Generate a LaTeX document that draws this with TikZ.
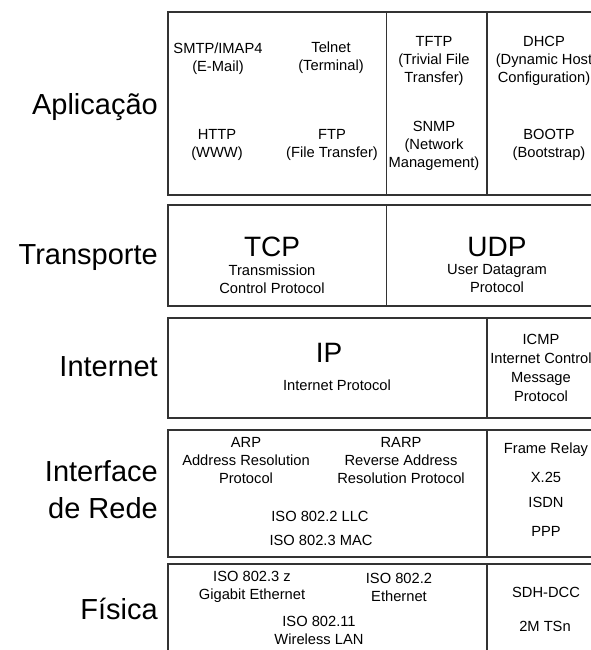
\documentclass[tikz,border=0pt]{standalone}
\usepackage{fontspec}
\setmainfont{Liberation Sans}
\begin{document}
\begin{tikzpicture}[x=1pt,y=-1pt,
  frame/.style={draw=black!80, line width=1.7pt},
  layer/.style={anchor=east, align=right, inner sep=0pt,
    font=\fontsize{29}{37}\selectfont},
  cell/.style={align=center, inner sep=0pt,
    font=\fontsize{14.7}{18}\selectfont},
  proto/.style={inner sep=0pt, font=\fontsize{28}{32}\selectfont}]
\useasboundingbox (0,0) rectangle (591,650);
\clip (0,0) rectangle (591,650);
\fill[white] (0,0) rectangle (591,650);

% layer frames and their column dividers
\draw[frame] (168,12) rectangle (606,195);
\draw[frame] (386.5,12) -- (386.5,195);
\draw[frame] (487,12) -- (487,195);

\draw[frame] (168,205) rectangle (606,306);
\draw[frame] (386.5,205) -- (386.5,306);

\draw[frame] (168,318) rectangle (606,418);
\draw[frame] (487,318) -- (487,418);

\draw[frame] (168,430) rectangle (606,557);
\draw[frame] (487,430) -- (487,557);

\draw[frame] (168,564) rectangle (606,670);
\draw[frame] (487,564) -- (487,670);

% layer names
\node[layer] (aplic) at (158,107) {Aplicação};
\node[layer] (transp) at (158,257.5) {Transporte};
\node[layer] (inet) at (158,367) {Internet};
\node[layer] (iface) at (158,490) {Interface\\de Rede};
\node[layer] (fis) at (158,609) {Física};

% application layer
\node[cell] (smtp) at (218,58.5) {SMTP/IMAP4\\(E-Mail)};
\node[cell] (telnet) at (331,58) {Telnet\\(Terminal)};
\node[cell] (tftp) at (434,61) {TFTP\\(Trivial File\\Transfer)};
\node[cell] (dhcp) at (544,61) {DHCP\\(Dynamic Host\\Configuration)};
\node[cell] (http) at (217,145) {HTTP\\(WWW)};
\node[cell] (ftp) at (332,145) {FTP\\(File Transfer)};
\node[cell] (snmp) at (434,146) {SNMP\\(Network\\Management)};
\node[cell] (bootp) at (549,145) {BOOTP\\(Bootstrap)};

% transport layer
\node[proto] (tcp) at (272,247) {TCP};
\node[cell] (tcpsub) at (272,279) {Transmission\\Control Protocol};
\node[proto] (udp) at (497,247) {UDP};
\node[cell] (udpsub) at (497,279) {User Datagram\\Protocol};

% internet layer
\node[proto] (ip) at (329,353) {IP};
\node[cell] (ipsub) at (337,385) {Internet Protocol};
\node[cell, font=\fontsize{14.7}{19}\selectfont] (icmp) at (541,368)
  {ICMP\\Internet Control\\Message\\Protocol};

% network interface layer
\node[cell] (arp) at (246,461) {ARP\\Address Resolution\\Protocol};
\node[cell] (rarp) at (401,461) {RARP\\Reverse Address\\Resolution Protocol};
\node[cell] (llc) at (320,516) {ISO 802.2 LLC};
\node[cell] (mac) at (321,540) {ISO 802.3 MAC};
\node[cell] (frelay) at (546,450) {Frame Relay};
\node[cell] (x25) at (546,477) {X.25};
\node[cell] (isdn) at (546,502) {ISDN};
\node[cell] (ppp) at (546,531) {PPP};

% physical layer
\node[cell] (gbe) at (252,587) {ISO 802.3 z\\Gigabit Ethernet};
\node[cell] (eth) at (399,587) {ISO 802.2\\Ethernet};
\node[cell] (wlan) at (319,630) {ISO 802.11\\Wireless LAN};
\node[cell] (sdh) at (546,592) {SDH-DCC};
\node[cell] (tsn) at (545,626) {2M TSn};
\end{tikzpicture}
\end{document}
